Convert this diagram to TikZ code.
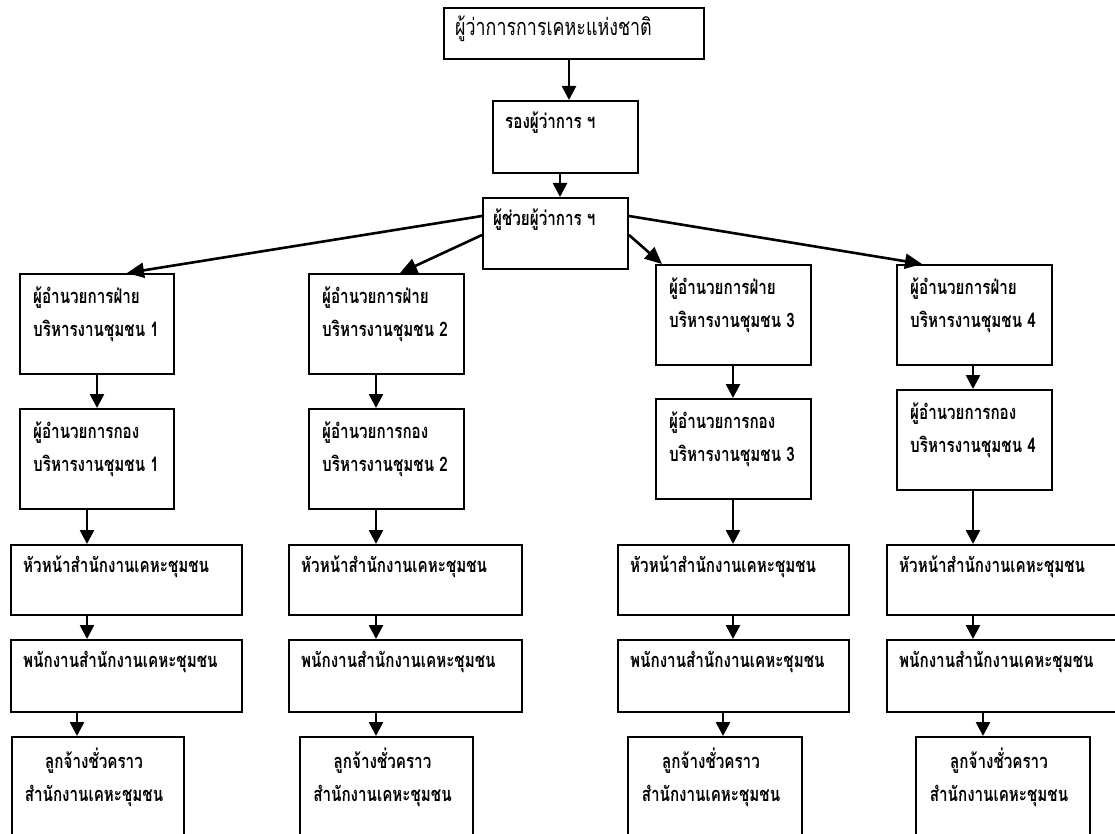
\documentclass[tikz,border=0pt]{standalone}
\usepackage{fontspec}
\newfontfamily\thaifont[Script=Thai,FakeStretch=0.76]{Loma}
\usetikzlibrary{arrows.meta}

\begin{document}
\begin{tikzpicture}[x=1pt, y=-1pt,
  box/.style={draw, line width=2pt, anchor=north west, inner sep=0pt},
  txt/.style={anchor=north west, inner sep=0pt, align=left,
    font=\thaifont\bfseries\fontsize{20}{33}\selectfont},
  arr/.style={line width=2.6pt, -{Triangle[length=14pt,width=14pt]}},
  slant/.style={line width=2.6pt, -{Triangle[length=17pt,width=15pt]}}]
\useasboundingbox (0,0) rectangle (1115,834);
\clip (0,0) rectangle (1115,834);
% top of the chain
\node[box, minimum width=260, minimum height=51] (gov) at (443,7) {};
\node[txt, font=\thaifont\fontsize{23.5}{24}\selectfont] (govt) at (455,16) {ผู้ว่าการการเคหะแห่งชาติ};
\node[box, minimum width=145, minimum height=72] (dep) at (492,100) {};
\node[txt] (dept) at (505,112) {รองผู้ว่าการ ฯ};
\node[box, minimum width=145, minimum height=71] (asst) at (482,197) {};
\node[txt] (asstt) at (493,209) {ผู้ช่วยผู้ว่าการ ฯ};
\draw[arr] (gov.south -| 569,0) -- (dep.north -| 569,0);
\draw[arr] (dep.south -| 560,0) -- (asst.north -| 560,0);
% one column per community division
\foreach \n/\x/\ya/\yb/\w in {1/19/273/408/154, 2/308/273/408/155, 3/655/264/398/155, 4/896/264/389/155} {
  \node[box, minimum width=\w, minimum height=100] (div\n) at (\x,\ya) {};
  \node[txt] (div\n t) at (\x+14,\ya+14) {ผู้อำนวยการฝ่าย\\บริหารงานชุมชน \n};
  \node[box, minimum width=\w, minimum height=100] (dir\n) at (\x,\yb) {};
  \node[txt] (dir\n t) at (\x+14,\yb+14) {ผู้อำนวยการกอง\\บริหารงานชุมชน \n};
}
\foreach \n/\x/\w in {1/10/231, 2/288/233, 3/617/231, 4/886/240} {
  \node[box, minimum width=\w, minimum height=70] (head\n) at (\x,544) {};
  \node[txt] (head\n t) at (\x+13,556) {หัวหน้าสำนักงานเคหะชุมชน};
  \node[box, minimum width=\w, minimum height=72] (staff\n) at (\x,639) {};
  \node[txt] (staff\n t) at (\x+13,651) {พนักงานสำนักงานเคหะชุมชน};
}
\foreach \n/\x/\w in {1/11/172, 2/299/173, 3/627/174, 4/915/174} {
  \node[box, minimum width=\w, minimum height=110] (temp\n) at (\x,736) {};
  \node[txt, anchor=north, align=center] (temp\n t) at (\x+\w/2-3,748) {ลูกจ้างชั่วคราว\\สำนักงานเคหะชุมชน};
}
% arrows from the assistant governor
\draw[slant] ([yshift=-19pt]asst.north west) -- (div1.north -| 127,0);
\draw[slant] ([yshift=-38pt]asst.north west) -- (div2.north -| 400,0);
\draw[slant] ([yshift=-38pt]asst.north east) -- (div3.north -| 662,0);
\draw[slant] ([yshift=-19pt]asst.north east) -- (div4.north -| 922,0);
% arrows down each column
\foreach \a/\b/\p in {div1/dir1/97, dir1/head1/87, head1/staff1/87, staff1/temp1/77,
    div2/dir2/376, dir2/head2/376, head2/staff2/376, staff2/temp2/376,
    div3/dir3/733, dir3/head3/733, head3/staff3/733, staff3/temp3/723,
    div4/dir4/973, dir4/head4/973, head4/staff4/973, staff4/temp4/983}
  \draw[arr] (\a.south -| \p,0) -- (\b.north -| \p,0);
\end{tikzpicture}
\end{document}
